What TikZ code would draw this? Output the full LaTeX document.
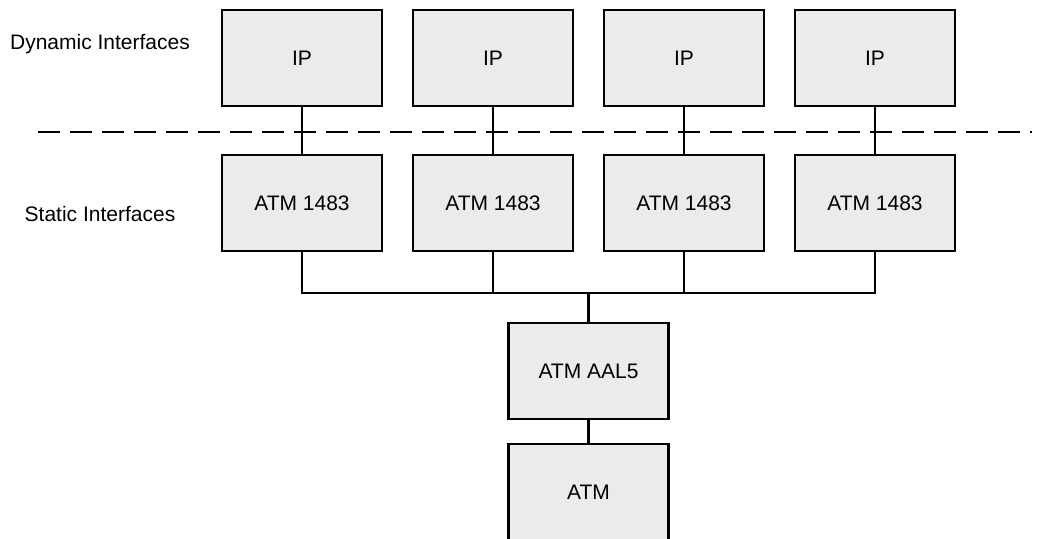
\documentclass[tikz,border=0pt]{standalone}
\usepackage{fontspec}
\setmainfont{Liberation Sans}
\usepackage{tikz}
\usetikzlibrary{positioning,calc}
\usepackage{xcolor}
\definecolor{boxgray}{HTML}{EBEBEB}

\begin{document}
\begin{tikzpicture}[
        node distance=49pt and 31pt,
        line width=2.8pt,
        layer/.style={draw,fill=boxgray,outer sep=0pt,minimum width=160pt,minimum height=96pt,font=\fontsize{21}{25}\selectfont},
        lbl/.style={font=\fontsize{21}{25}\selectfont}
      ]
      \useasboundingbox (0,0) rectangle (1038pt,538pt);
      \node[layer] (ip1) at (302pt,480pt) {IP};
      \node[layer,right=of ip1] (ip2) {IP};
      \node[layer,right=of ip2] (ip3) {IP};
      \node[layer,right=of ip3] (ip4) {IP};

      \node[layer,below=of ip1] (st1) {ATM 1483};
      \node[layer,right=of st1] (st2) {ATM 1483};
      \node[layer,right=of st2] (st3) {ATM 1483};
      \node[layer,right=of st3] (st4) {ATM 1483};

      \coordinate (mid) at ($(st2.south)!0.5!(st3.south)$);
      \node[layer,below=72pt of mid] (aal5) {ATM AAL5};
      \node[layer,below=25pt of aal5] (atm) {ATM};

      \node[lbl] (dyn) at (100pt,494pt) {Dynamic Interfaces};
      \node[lbl] (stat) at (100pt,324pt) {Static Interfaces};

      % layer boundary
      \coordinate (dashL) at (38pt,406pt);
      \coordinate (dashR) at (1032pt,406pt);
      \draw[dash pattern=on 22pt off 10pt] (dashL) -- (dashR);

      \foreach \i in {1,...,4}
        \draw (ip\i) -- (st\i);

      % bus to AAL5
      \coordinate (busL) at ($(st1.south)+(0,-42pt)$);
      \draw (st1.south) -- (busL) -| (st4.south);
      \foreach \i in {2,3}
        \draw (st\i.south) -- (st\i.south |- busL);
      \draw (aal5.north) -- (aal5.north |- busL);
      \draw (aal5) -- (atm);
    \end{tikzpicture}
\end{document}
